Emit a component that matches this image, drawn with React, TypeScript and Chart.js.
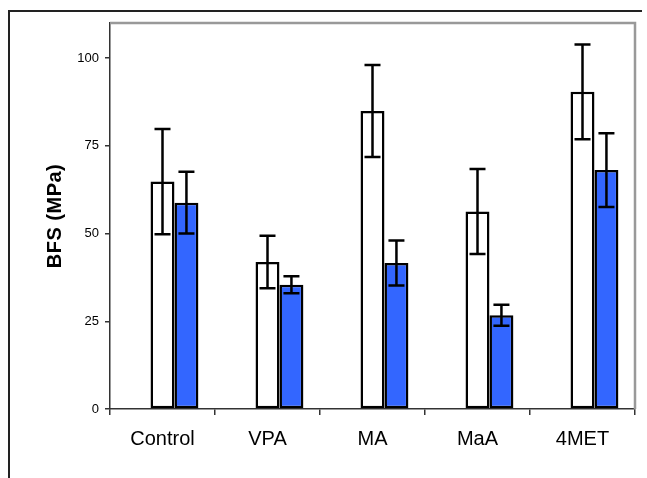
import { useEffect, useRef } from "react";
import { Chart, registerables } from "chart.js";

Chart.register(...registerables);

const categories = ["Control", "VPA", "MA", "MaA", "4MET"];
const seriesWhite = [64.8, 41.9, 84.9, 56.3, 90.4];
const errWhite = [15.0, 7.5, 13.1, 12.1, 13.5];
const seriesBlue = [58.8, 35.4, 41.6, 26.7, 68.1];
const errBlue = [8.8, 2.4, 6.4, 3.0, 10.5];
const spacerSeries = [null, null, null, null, null];
const yTicks = [0, 25, 50, 75, 100];
const yMax = 110;
const yTitle = "BFS (MPa)";

const FONT = "'Liberation Sans', Arial, sans-serif";

const errorBarPlugin = {
  id: "errorBars",
  afterDatasetsDraw(chart: any) {
    const ctx = chart.ctx;
    const y = chart.scales.y;
    chart.data.datasets.forEach((ds: any, i: number) => {
      if (!ds.errors) return;
      const meta = chart.getDatasetMeta(i);
      meta.data.forEach((bar: any, j: number) => {
        const v = ds.data[j];
        const e = ds.errors[j];
        if (v == null || e == null) return;
        const x = bar.x;
        const top = y.getPixelForValue(v + e);
        const bot = y.getPixelForValue(v - e);
        const cap = 8;
        ctx.save();
        ctx.strokeStyle = "#000";
        ctx.lineWidth = 2.5;
        ctx.beginPath();
        ctx.moveTo(x, top);
        ctx.lineTo(x, bot);
        ctx.moveTo(x - cap, top);
        ctx.lineTo(x + cap, top);
        ctx.moveTo(x - cap, bot);
        ctx.lineTo(x + cap, bot);
        ctx.stroke();
        ctx.restore();
      });
    });
  },
};

const frameTitlePlugin = {
  id: "frameTitle",
  beforeDatasetsDraw(chart: any) {
    const { ctx, chartArea } = chart;
    ctx.save();
    ctx.strokeStyle = "#999";
    ctx.lineWidth = 2.5;
    ctx.beginPath();
    ctx.moveTo(chartArea.left, chartArea.top);
    ctx.lineTo(chartArea.right, chartArea.top);
    ctx.lineTo(chartArea.right, chartArea.bottom);
    ctx.stroke();
    ctx.restore();
  },
  afterDraw(chart: any) {
    const { ctx, chartArea } = chart;
    ctx.save();
    ctx.translate(55, (chartArea.top + chartArea.bottom) / 2);
    ctx.rotate(-Math.PI / 2);
    ctx.font = `bold 20px ${FONT}`;
    try {
      (ctx as any).letterSpacing = "0.5px";
    } catch (e) {}
    ctx.fillStyle = "#000";
    ctx.textAlign = "center";
    ctx.textBaseline = "middle";
    ctx.fillText(yTitle, 0, 0);
    ctx.restore();
  },
};

export default function App() {
  const ref = useRef<HTMLCanvasElement | null>(null);

  useEffect(() => {
    if (!ref.current) return;
    const chart = new Chart(ref.current, {
      type: "bar",
      data: {
        labels: categories,
        datasets: [
          {
            label: "",
            data: spacerSeries as any,
            backgroundColor: "rgba(0,0,0,0)",
            borderWidth: 0,
          },
          {
            label: "A",
            data: seriesWhite,
            backgroundColor: "#FFFFFF",
            borderColor: "#000000",
            borderWidth: 2.5,
            borderSkipped: false,
            errors: errWhite,
          } as any,
          {
            label: "B",
            data: seriesBlue,
            backgroundColor: "#3366FF",
            borderColor: "#000000",
            borderWidth: 2.5,
            borderSkipped: false,
            errors: errBlue,
          } as any,
        ],
      },
      options: {
        animation: false,
        responsive: false,
        maintainAspectRatio: false,
        devicePixelRatio: 1,
        layout: { padding: { left: 0, right: 12, top: 23, bottom: 0 } },
        plugins: {
          legend: { display: false },
          tooltip: { enabled: false },
          title: { display: false },
        },
        datasets: {
          bar: { barPercentage: 1.0, categoryPercentage: 0.684 },
        },
        scales: {
          x: {
            grid: {
              offset: true,
              drawOnChartArea: false,
              drawTicks: true,
              tickLength: 6,
              color: "#333",
              lineWidth: 1.5,
            },
            border: { display: true, color: "#333", width: 1.5 },
            ticks: {
              color: "#000",
              font: { family: FONT, size: 20 },
              padding: 12,
              maxRotation: 0,
            },
            afterFit(scale: any) {
              scale.height = 69;
            },
          },
          y: {
            min: 0,
            max: yMax,
            grid: {
              drawOnChartArea: false,
              drawTicks: true,
              tickLength: 5,
              color: "#333",
              lineWidth: 1.5,
            },
            border: { display: true, color: "#333", width: 1.5 },
            ticks: {
              stepSize: 25,
              includeBounds: false,
              color: "#000",
              font: { family: FONT, size: 13 },
              padding: 6,
            },
            afterBuildTicks(scale: any) {
              scale.ticks = yTicks.map((v) => ({ value: v }));
            },
            afterFit(scale: any) {
              scale.width = 110;
            },
          },
        },
      },
      plugins: [errorBarPlugin, frameTitlePlugin],
    });
    return () => chart.destroy();
  }, []);

  return (
    <div style={{ position: "absolute", left: 0, top: 0, width: 647, height: 478, background: "#fff", overflow: "hidden" }}>
      <div
        style={{
          position: "absolute",
          left: 8,
          top: 10,
          width: 634,
          height: 480,
          borderTop: "2px solid #222",
          borderLeft: "2px solid #222",
          boxSizing: "border-box",
        }}
      />
      <canvas ref={ref} width={647} height={478} style={{ position: "absolute", left: 0, top: 0, width: 647, height: 478 }} />
    </div>
  );
}
